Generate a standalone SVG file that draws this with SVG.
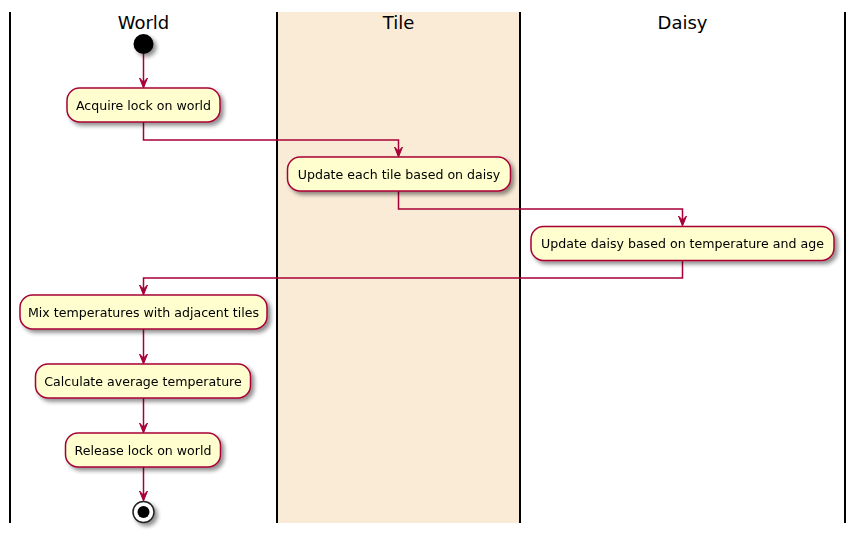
<svg xmlns="http://www.w3.org/2000/svg" width="855" height="533" viewBox="0 0 855 533">
<defs>
<filter id="sh" x="-20%" y="-30%" width="150%" height="180%">
<feGaussianBlur in="SourceAlpha" stdDeviation="2"/>
<feOffset dx="3" dy="3" result="b"/>
<feComponentTransfer><feFuncA type="linear" slope="0.45"/></feComponentTransfer>
<feMerge><feMergeNode/><feMergeNode in="SourceGraphic"/></feMerge>
</filter>
</defs>
<style>
.lane{stroke:#000;stroke-width:2;fill:none}
.title{font-family:"DejaVu Sans",sans-serif;font-size:18px;fill:#000;text-anchor:middle}
.node rect{fill:#FEFECE;stroke:#A80036;stroke-width:1.5}
.node text{font-family:"DejaVu Sans",sans-serif;font-size:12.6px;fill:#000;text-anchor:middle}
.conn path{fill:none;stroke:#A80036;stroke-width:1.5}
.conn polygon{fill:#A80036;stroke:#A80036;stroke-width:1}
</style>
<rect x="0" y="0" width="855" height="533" fill="#FFFFFF"/>
<rect x="278" y="12" width="242" height="511" fill="#FAEBD7"/>
<g id="lanes">
<line class="lane" x1="10" y1="12" x2="10" y2="523"/>
<line class="lane" x1="277" y1="12" x2="277" y2="523"/>
<line class="lane" x1="520" y1="12" x2="520" y2="523"/>
<line class="lane" x1="845" y1="12" x2="845" y2="523"/>
<text class="title" x="143.5" y="29">World</text>
<text class="title" x="398.5" y="29">Tile</text>
<text class="title" x="682.5" y="29">Daisy</text>
</g>
<g id="connectors" class="conn">
<path d="M143.5,54 V86"/>
<polygon points="139.5,78 143.5,88 147.5,78 143.5,82"/>
<path d="M143.5,122 V140 H398.5 V155"/>
<polygon points="394.5,147 398.5,157 402.5,147 398.5,151"/>
<path d="M398.5,191 V209 H682.5 V224"/>
<polygon points="678.5,216 682.5,226 686.5,216 682.5,220"/>
<path d="M682.5,261 V278 H143.5 V293"/>
<polygon points="139.5,285 143.5,295 147.5,285 143.5,289"/>
<path d="M143.5,329 V362"/>
<polygon points="139.5,354 143.5,364 147.5,354 143.5,358"/>
<path d="M143.5,398 V431"/>
<polygon points="139.5,423 143.5,433 147.5,423 143.5,427"/>
<path d="M143.5,467 V499"/>
<polygon points="139.5,491 143.5,501 147.5,491 143.5,495"/>
</g>
<g id="start" filter="url(#sh)">
<circle cx="143.5" cy="44" r="10" fill="#000"/>
</g>
<g id="n1" class="node" filter="url(#sh)">
<rect x="67" y="88" width="153" height="34" rx="12.5"/>
<text x="143.5" y="109.5">Acquire lock on world</text>
</g>
<g id="n2" class="node" filter="url(#sh)">
<rect x="287.5" y="157" width="223" height="34" rx="12.5"/>
<text x="399" y="178.5">Update each tile based on daisy</text>
</g>
<g id="n3" class="node" filter="url(#sh)">
<rect x="531" y="226.5" width="303" height="34" rx="12.5"/>
<text x="682.5" y="248">Update daisy based on temperature and age</text>
</g>
<g id="n4" class="node" filter="url(#sh)">
<rect x="20" y="295" width="247" height="34" rx="12.5"/>
<text x="143.5" y="316.5">Mix temperatures with adjacent tiles</text>
</g>
<g id="n5" class="node" filter="url(#sh)">
<rect x="35.5" y="364" width="215" height="34" rx="12.5"/>
<text x="143" y="385.5">Calculate average temperature</text>
</g>
<g id="n6" class="node" filter="url(#sh)">
<rect x="65.5" y="433" width="155" height="34" rx="12.5"/>
<text x="143" y="454.5">Release lock on world</text>
</g>
<g id="end" filter="url(#sh)">
<circle cx="143.5" cy="512" r="10.5" fill="#FFFFFF" stroke="#222" stroke-width="1.5"/>
<circle cx="143.5" cy="512" r="6" fill="#000"/>
</g>
</svg>
